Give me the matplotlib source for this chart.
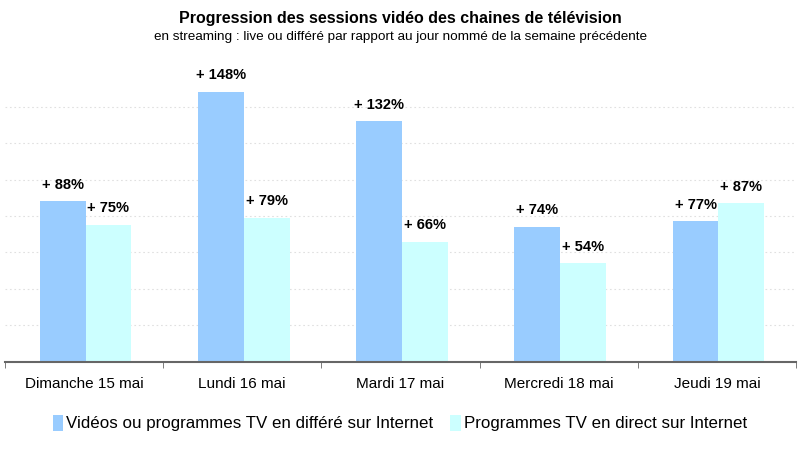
import numpy as np
import matplotlib
matplotlib.use("Agg")
import matplotlib.pyplot as plt

plt.rcParams['font.family'] = ['Liberation Sans', 'DejaVu Sans']

jours = ["Dimanche 15 mai", "Lundi 16 mai", "Mardi 17 mai", "Mercredi 18 mai", "Jeudi 19 mai"]
differe = [88, 148, 132, 74, 77]
direct = [75, 79, 66, 54, 87]
noms = ["Vidéos ou programmes TV en différé sur Internet", "Programmes TV en direct sur Internet"]

bleu = "#99CCFF"
cyan = "#CCFFFF"

fig = plt.figure(figsize=(8, 4.5), dpi=100)
ax = fig.add_axes([0.006, 0.196, 0.989, 0.648])

x = np.arange(len(jours))
w = 0.29
b1 = ax.bar(x - w / 2 + 0.01, differe, w, color=bleu, label=noms[0], zorder=2)
b2 = ax.bar(x + w / 2 + 0.01, direct, w, color=cyan, label=noms[1], zorder=2)

for bars, vals in ((b1, differe), (b2, direct)):
    for r, v in zip(bars, vals):
        ax.annotate("+ %d%%" % v, (r.get_x() + r.get_width() / 2, v),
                    xytext=(0, 7), textcoords="offset points",
                    ha="center", va="bottom", fontsize=10.5, fontweight="bold")

ax.set_xlim(-0.5, len(jours) - 0.5)
ax.set_ylim(0, 160)
ax.set_yticks(np.arange(20, 160, 20))
ax.yaxis.grid(True, linestyle=(0, (1.5, 2.5)), color="#e0e0e0", linewidth=0.8, zorder=0)
ax.tick_params(axis="y", left=False, labelleft=False)

ax.set_xticks(x)
ax.set_xticklabels(jours, fontsize=11)
ax.tick_params(axis="x", length=0, pad=11)
ax.set_xticks(np.arange(-0.5, len(jours), 1), minor=True)
ax.tick_params(axis="x", which="minor", length=4, color="#666666", direction="out")

for s in ("top", "right", "left"):
    ax.spines[s].set_visible(False)
ax.spines["bottom"].set_color("#666666")
ax.spines["bottom"].set_linewidth(1.5)

fig.text(0.5, 0.96, "Progression des sessions vidéo des chaines de télévision",
         ha="center", va="center", fontsize=11.5, fontweight="bold")
fig.text(0.5, 0.918, "en streaming : live ou différé par rapport au jour nommé de la semaine précédente",
         ha="center", va="center", fontsize=9.7)

fig.legend(loc="center", bbox_to_anchor=(0.5, 0.06), ncol=2, frameon=False,
           fontsize=12.2, handlelength=0.6, handleheight=1.1, handletextpad=0.2,
           columnspacing=1.0)

fig.savefig("out.png", dpi=100)
